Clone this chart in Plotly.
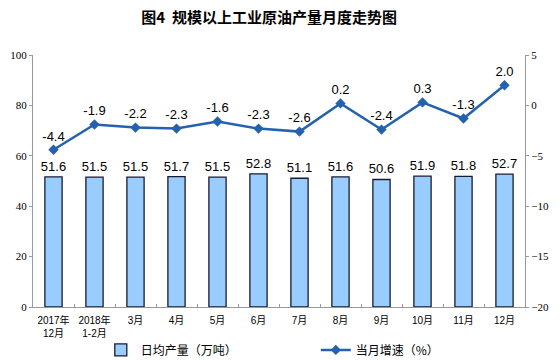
import plotly.graph_objects as go

categories = ["2017年<br>12月", "2018年<br>1-2月", "3月", "4月", "5月", "6月", "7月", "8月", "9月", "10月", "11月", "12月"]
daily_output = [51.6, 51.5, 51.5, 51.7, 51.5, 52.8, 51.1, 51.6, 50.6, 51.9, 51.8, 52.7]
growth = [-4.4, -1.9, -2.2, -2.3, -1.6, -2.3, -2.6, 0.2, -2.4, 0.3, -1.3, 2.0]

serif = "Liberation Serif, Times New Roman, serif"
sans = "Liberation Sans, Arial, sans-serif"
cjk = "Noto Sans CJK SC, sans-serif"
mixed = "Liberation Sans, Noto Sans CJK SC, sans-serif"

fig = go.Figure()
fig.add_trace(go.Bar(
    x=categories, y=daily_output, name="日均产量（万吨）",
    marker=dict(color="#99CCFF", line=dict(color="#1a1a2e", width=1.3)),
    text=[f"{v:.1f}" for v in daily_output], textposition="outside",
    constraintext="none",
    textfont=dict(family=sans, size=13, color="#000"),
    cliponaxis=False,
))
fig.add_trace(go.Scatter(
    x=categories, y=growth, name="当月增速（%）", yaxis="y2",
    mode="lines+markers+text",
    line=dict(color="#2462B0", width=2.5),
    marker=dict(symbol="diamond", size=8, color="#2462B0"),
    text=[f"{v:.1f}" for v in growth], textposition="top center",
    textfont=dict(family=sans, size=13, color="#000"),
    cliponaxis=False,
))

fig.update_layout(
    width=560, height=360,
    margin=dict(l=33, r=35, t=55, b=53),
    paper_bgcolor="white", plot_bgcolor="white",
    title=dict(text="<b>图4  规模以上工业原油产量月度走势图</b>", x=0.48, xanchor="center",
               xref="paper", yref="container", y=0.95, yanchor="middle",
               font=dict(family=cjk, size=15, color="#000")),
    bargap=0.58,
    showlegend=True,
    legend=dict(orientation="h", xref="container", yref="container",
                x=0.18, xanchor="left", y=0.028, yanchor="middle",
                font=dict(family=cjk, size=12, color="#000"), entrywidth=170,
                itemwidth=30, bgcolor="rgba(0,0,0,0)"),
    xaxis=dict(type="category", range=[-0.5, 11.5], showline=True, linecolor="#999", linewidth=1,
               ticks="inside", tickson="boundaries", ticklen=3, tickcolor="#999",
               tickangle=0, automargin=False, ticklabelstandoff=4,
               tickfont=dict(family=mixed, size=10, color="#000"), showgrid=False),
    yaxis=dict(range=[0, 100], dtick=20, showline=True, linecolor="#999", linewidth=1,
               ticks="outside", ticklen=3, tickcolor="#999", showgrid=False, zeroline=False,
               automargin=False,
               tickfont=dict(family=serif, size=11, color="#000")),
    yaxis2=dict(range=[-20, 5], dtick=5, overlaying="y", side="right", showline=True,
                linecolor="#999", linewidth=1, ticks="outside", ticklen=3, tickcolor="#999",
                showgrid=False, zeroline=False, automargin=False,
                tickfont=dict(family=serif, size=11, color="#000")),
)

fig.write_html("out.html", config={"displayModeBar": False},
               post_script="document.body.style.margin='0';document.body.style.overflow='hidden';")
